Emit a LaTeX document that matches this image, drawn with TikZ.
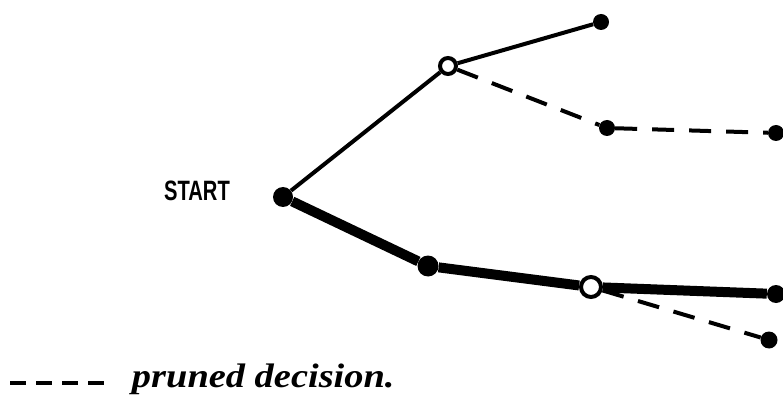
\documentclass[tikz,border=0pt]{standalone}
\usepackage{fontspec}
\setmainfont{Liberation Serif}
\newfontfamily\startfont{Liberation Sans}
\begin{document}
\begin{tikzpicture}[x=1pt,y=-1pt,
  leaf/.style={circle,fill=black,inner sep=0pt,minimum size=16pt},
  opennode/.style={circle,draw=black,line width=4pt,fill=white,inner sep=0pt,minimum size=16pt},
  thin/.style={line width=4pt},
  thickedge/.style={line width=10pt},
  pruned/.style={line width=4pt,dash pattern=on 22pt off 15pt}]
\useasboundingbox (0,0) rectangle (783,403);
\node[leaf,minimum size=20pt] (s) at (283,197) {};
\node[font=\startfont\bfseries\fontsize{28}{28}\selectfont,xscale=0.72,anchor=center] (lbl) at (197,191) {START};
\node[opennode] (a) at (448,66) {};
\node[leaf] (a1) at (601,22) {};
\node[leaf] (a2) at (607,128) {};
\node[leaf] (a3) at (776,133) {};
\node[leaf,minimum size=21pt] (b) at (428,266) {};
\node[opennode,minimum size=20pt] (c) at (591,287) {};
\node[leaf,minimum size=18pt] (c1) at (776,294) {};
\node[leaf,minimum size=17pt] (c2) at (769,340) {};
\draw[thin] (s) -- (a);
\draw[thin] (a) -- (a1);
\draw[pruned] (a) -- (a2);
\draw[pruned] (a2) -- (a3);
\draw[thickedge] (s) -- (b);
\draw[thickedge] (b) -- (c);
\draw[thickedge] (c) -- (c1);
\draw[pruned] (c) -- (c2);
\coordinate (l1) at (10,383);
\coordinate (l2) at (106,383);
\draw[line width=4pt,dash pattern=on 16pt off 10pt] (l1) -- (l2);
\node[font=\bfseries\itshape\fontsize{34}{34}\selectfont,anchor=base west,xscale=1.13] (leg) at (128,387) {pruned decision.};
\end{tikzpicture}
\end{document}
